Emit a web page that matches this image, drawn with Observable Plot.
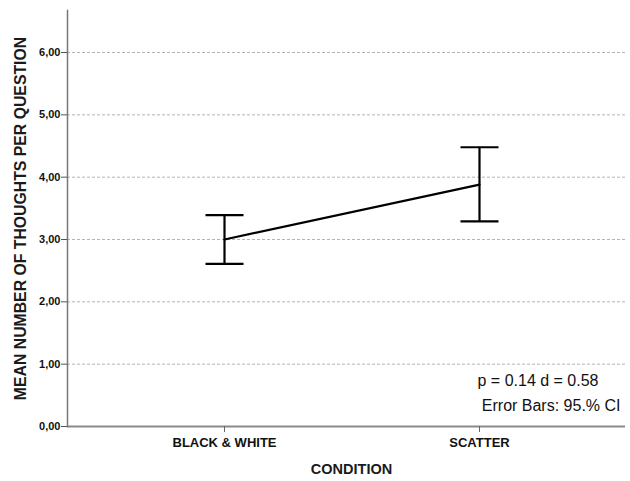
<!DOCTYPE html>
<html>
<head>
<meta charset="utf-8">
<script src="https://cdn.jsdelivr.net/npm/d3@7"></script>
<script src="https://cdn.jsdelivr.net/npm/@observablehq/plot@0.6"></script>
<style>
  html, body { margin: 0; padding: 0; background: #fff; }
  #chart { width: 630px; height: 481px; }
</style>
</head>
<body>
<div id="chart"></div>
<script>
// ---- data ----
const conditions = ["BLACK & WHITE", "SCATTER"];
const means = [3.00, 3.88];
const lower = [2.61, 3.29];
const upper = [3.39, 4.48];
const yTicks = [0, 1, 2, 3, 4, 5, 6];
const gridTicks = [1, 2, 3, 4, 5, 6];
const yLabel = "MEAN NUMBER OF THOUGHTS PER QUESTION";
const xLabel = "CONDITION";
const notes = ["p = 0.14 d = 0.58", "Error Bars: 95.% CI"];

const data = conditions.map((c, i) => ({condition: c, mean: means[i], lo: lower[i], hi: upper[i]}));

// horizontal cap symbol for error bars
const capSymbol = {
  draw(context, size) {
    const h = Math.sqrt(size / Math.PI);
    context.moveTo(-h, 0);
    context.lineTo(h, 0);
  }
};

const chart = Plot.plot({
  width: 630,
  height: 481,
  marginLeft: 67,
  marginRight: 5,
  marginTop: 10,
  marginBottom: 55,
  style: {fontFamily: "'Liberation Sans', Arial, sans-serif", background: "#fff", color: "#222"},
  x: {type: "point", domain: conditions, padding: 0.59, align: 0.517},
  y: {domain: [0, 6.674]},
  marks: [
    Plot.ruleY(gridTicks, {stroke: "#b4b4b4", strokeWidth: 1, strokeDasharray: "3,2"}),
    Plot.ruleY([0], {stroke: "#8a8a8a", strokeWidth: 2}),
    Plot.frame({anchor: "left", stroke: "#777", strokeWidth: 1.5}),
    Plot.axisY({
      ticks: yTicks,
      tickFormat: d => d.toFixed(2).replace(".", ","),
      tickSize: 6,
      tickPadding: 1,
      fontSize: 11,
      fontWeight: "bold",
      stroke: "#555",
      fill: "#111",
      label: null
    }),
    Plot.axisX({
      tickSize: 6,
      tickPadding: 5,
      fontSize: 13,
      fontWeight: "bold",
      stroke: "#666",
      fill: "#111",
      label: null
    }),
    Plot.text([yLabel], {frameAnchor: "left", textAnchor: "middle", lineAnchor: "middle", dx: -47, rotate: -90, fontSize: 15.8, fontWeight: "bold", fill: "#1a1a1a"}),
    Plot.text([xLabel], {frameAnchor: "bottom", textAnchor: "middle", lineAnchor: "middle", dx: 5, dy: 43, fontSize: 14.5, fontWeight: "bold", fill: "#1a1a1a"}),
    Plot.line(data, {x: "condition", y: "mean", stroke: "#000", strokeWidth: 2.2}),
    Plot.ruleX(data, {x: "condition", y1: "lo", y2: "hi", stroke: "#000", strokeWidth: 2.2}),
    Plot.dot(data, {x: "condition", y: "lo", symbol: capSymbol, r: 19, stroke: "#000", strokeWidth: 2.2, fill: "none"}),
    Plot.dot(data, {x: "condition", y: "hi", symbol: capSymbol, r: 19, stroke: "#000", strokeWidth: 2.2, fill: "none"}),
    Plot.text([notes[0]], {frameAnchor: "bottom-right", textAnchor: "end", lineAnchor: "middle", dx: -27, dy: -46, fontSize: 16, fill: "#111"}),
    Plot.text([notes[1]], {frameAnchor: "bottom-right", textAnchor: "end", lineAnchor: "middle", dx: -5, dy: -21, fontSize: 16, fill: "#111"})
  ]
});

document.getElementById("chart").appendChild(chart);
</script>
</body>
</html>
